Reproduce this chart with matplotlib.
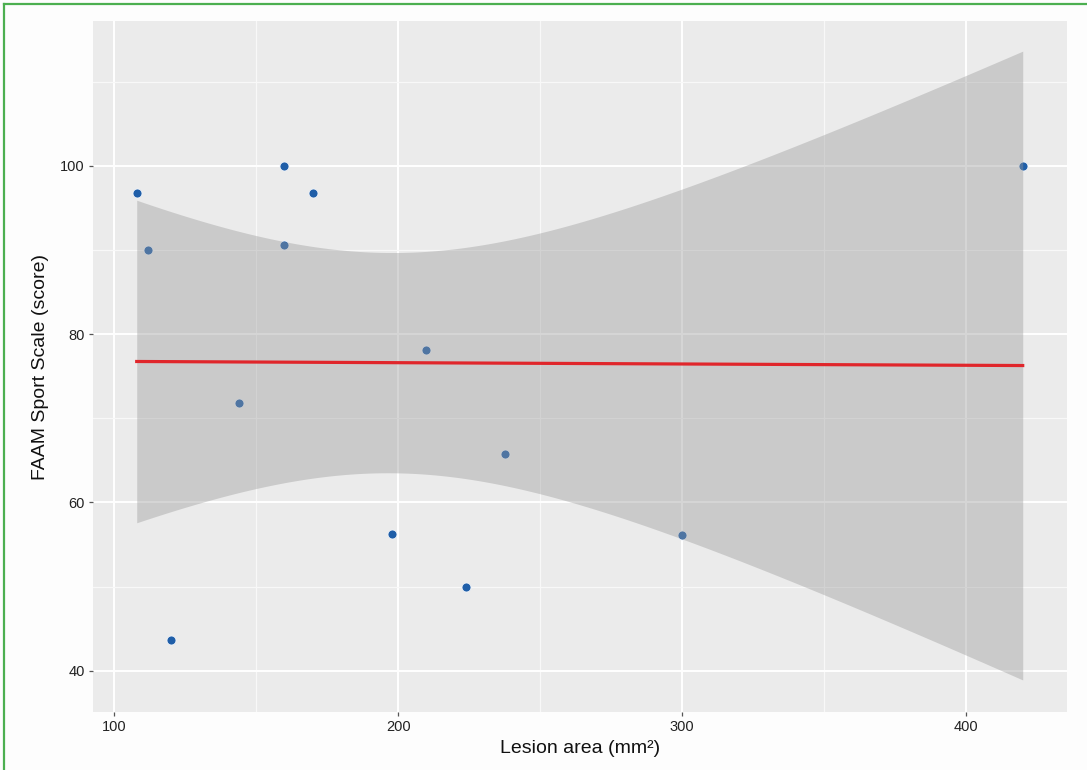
import numpy as np
import matplotlib.pyplot as plt
from matplotlib.lines import Line2D

# data
lesion_area = [107.9, 159.8, 169.9, 111.8, 159.8, 143.8, 209.8, 120.0, 197.8, 223.9, 237.7, 299.9, 420.0]
faam_sport = [96.8, 100.0, 96.8, 90.0, 90.6, 71.8, 78.1, 43.7, 56.3, 50.0, 65.7, 56.1, 100.0]
x_ticks = [100, 200, 300, 400]
y_ticks = [40, 60, 80, 100]

plt.rcParams['font.family'] = ['Liberation Sans', 'DejaVu Sans']

x = np.array(lesion_area)
y = np.array(faam_sport)

# linear fit with 95% confidence band (like geom_smooth(method='lm'))
n = len(x)
slope, intercept = np.polyfit(x, y, 1)
resid = y - (intercept + slope * x)
s = np.sqrt(np.sum(resid ** 2) / (n - 2))
sxx = np.sum((x - x.mean()) ** 2)
t_crit = 2.200985  # t(0.975, df=11)
xs = np.linspace(x.min(), x.max(), 200)
fit = intercept + slope * xs
half = t_crit * s * np.sqrt(1 / n + (xs - x.mean()) ** 2 / sxx)

fig = plt.figure(figsize=(10.87, 7.7), dpi=100, facecolor='#fdfdfd')
ax = fig.add_axes([93 / 1087, 1 - 712 / 770, (1067 - 93) / 1087, (712 - 21) / 770])
ax.set_facecolor('#ebebeb')

ax.scatter(x, y, s=42, color='#1f5ea8', edgecolors='#eef3fa', linewidths=0.6, zorder=3)
ax.fill_between(xs, fit - half, fit + half, color='#999999', alpha=0.4, linewidth=0, zorder=4)
ax.plot(xs, fit, color='#e0262b', linewidth=2.3, zorder=5)

ax.set_xlim(92.5, 435.6)
ax.set_ylim(35.1, 117.2)
ax.set_xticks(x_ticks)
ax.set_yticks(y_ticks)
ax.set_xticks([150, 250, 350], minor=True)
ax.set_yticks([50, 70, 90, 110], minor=True)
ax.grid(which='major', color='white', linewidth=1.4, zorder=1)
ax.grid(which='minor', color='#f8f8f8', linewidth=0.9, zorder=1)
ax.set_axisbelow(True)
for sp in ax.spines.values():
    sp.set_visible(False)
ax.tick_params(which='major', length=3, width=0.9, color='#555555', labelsize=10.5,
               labelcolor='#222222', pad=3)
ax.tick_params(which='minor', length=0)

ax.set_xlabel('Lesion area (mm²)', fontsize=14, color='#111111', labelpad=4)
ax.set_ylabel('FAAM Sport Scale (score)', fontsize=14, color='#111111', labelpad=8)

# green frame around the figure
fig.add_artist(Line2D([4 / 1087, 4 / 1087], [0, 1 - 4 / 770], transform=fig.transFigure,
                      color='#4caf50', linewidth=1.6))
fig.add_artist(Line2D([4 / 1087, 1], [1 - 4 / 770, 1 - 4 / 770], transform=fig.transFigure,
                      color='#4caf50', linewidth=1.6))

fig.savefig('out.png', dpi=100, facecolor=fig.get_facecolor())
